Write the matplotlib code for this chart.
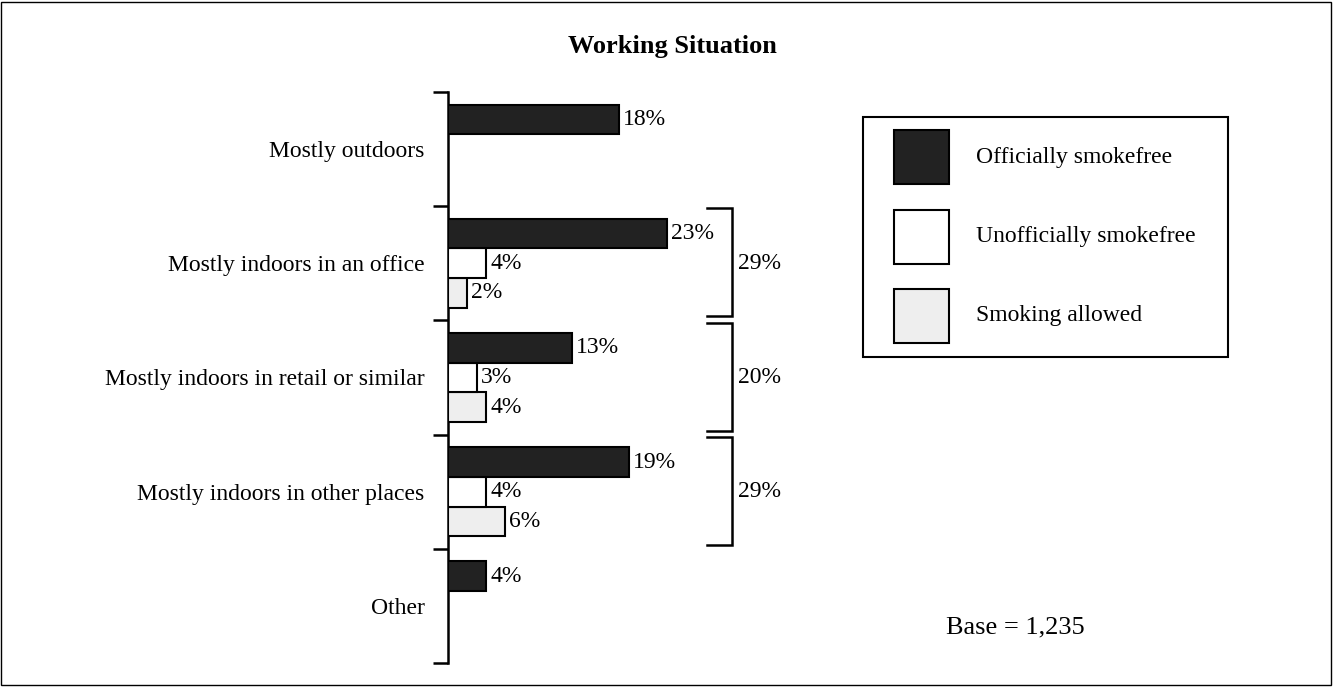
import numpy as np
import matplotlib as mpl
mpl.use("Agg")
import matplotlib.pyplot as plt
from matplotlib.patches import Rectangle

FS = 17
mpl.rcParams.update({"font.family": "Liberation Serif", "font.size": FS})

W, H = 1333, 687

categories = ["Mostly outdoors", "Mostly indoors in an office",
              "Mostly indoors in retail or similar",
              "Mostly indoors in other places", "Other"]
official = [18, 23, 13, 19, 4]
unofficial = [None, 4, 3, 4, None]
allowed = [None, 2, 4, 6, None]
indoor_total = [None, 29, 20, 29, None]
series_names = ["Officially smokefree", "Unofficially smokefree", "Smoking allowed"]
series_colors = ["#222222", "#ffffff", "#eeeeee"]
base_n = "1,235"


def fx(px):
    return px / W


def fy(py):
    return 1 - py / H


fig = plt.figure(figsize=(W / 100, H / 100), dpi=100)
fig.add_artist(Rectangle((fx(1), fy(685)), fx(1330), 683 / H, transform=fig.transFigure,
                         fill=False, ec="black", lw=1.0))
fig.text(fx(672), fy(47), "Working Situation", ha="center", va="center",
         fontsize=19, fontweight="bold")

ax = fig.add_axes([fx(448), fy(663), fx(1300 - 448), (663 - 92) / H])
ax.set_xlim(0, (1300 - 448) / 9.5)
ax.set_ylim(4.5, -0.5)

bh = 0.26
offsets = [-bh, 0, bh]
for k, vals in enumerate([official, unofficial, allowed]):
    for i, v in enumerate(vals):
        if v is None:
            continue
        y = i + offsets[k]
        ax.barh(y, v, height=bh, color=series_colors[k], edgecolor="black",
                linewidth=1.5, zorder=3 - k * 0.1)
        ax.annotate(f"{v}%", (v, y), xytext=(3, 0), textcoords="offset points",
                    ha="left", va="center", fontsize=FS)

# brackets for indoor totals
for i, t in enumerate(indoor_total):
    if t is None:
        continue
    x0, x1 = (707 - 448) / 9.5, (732 - 448) / 9.5
    y0, y1 = i - 0.48, i + 0.465
    ax.plot([x0, x1, x1, x0], [y0, y0, y1, y1], color="black", lw=1.8,
            solid_joinstyle="miter", clip_on=False)
    ax.text((738 - 448) / 9.5, i, f"{t}%", ha="left", va="center", fontsize=FS)

for s in ("top", "right", "bottom"):
    ax.spines[s].set_visible(False)
ax.spines["left"].set_linewidth(1.8)
ax.set_xticks([])
ax.set_yticks(np.arange(-0.5, 5.0, 1.0))
ax.set_yticklabels([])
ax.tick_params(axis="y", which="major", length=11, width=1.8, direction="out")
ax.set_yticks(np.arange(len(categories)), minor=True)
ax.set_yticklabels(categories, minor=True)
ax.tick_params(axis="y", which="minor", length=0, pad=17, labelsize=FS)

# legend box
fig.add_artist(Rectangle((fx(863), fy(357)), fx(1228 - 863), (357 - 117) / H,
                         transform=fig.transFigure, fill=False, ec="black", lw=1.5))
for k, (name, col) in enumerate(zip(series_names, series_colors)):
    top = 130 + k * 79.5
    fig.add_artist(Rectangle((fx(894), fy(top + 54)), fx(55), 54 / H,
                             transform=fig.transFigure, fc=col, ec="black", lw=1.5))
    fig.text(fx(976), fy(top + 27), name, ha="left", va="center", fontsize=FS)

fig.text(fx(946), fy(627), f"Base = {base_n}", ha="left", va="center", fontsize=19)

fig.savefig("out.png", dpi=100)
